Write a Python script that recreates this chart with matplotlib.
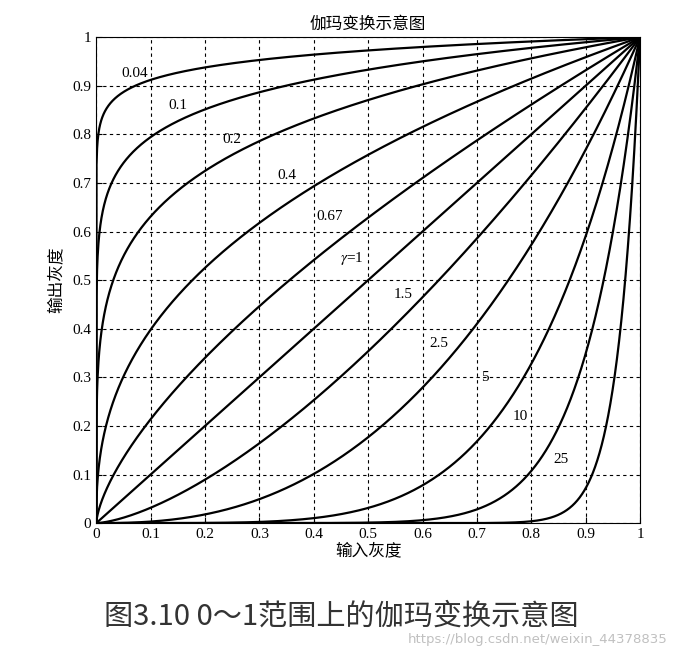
import numpy as np
import matplotlib
matplotlib.use('Agg')
import matplotlib.pyplot as plt

plt.rcParams['font.family'] = ['Liberation Serif', 'Noto Sans CJK SC']
plt.rcParams['mathtext.fontset'] = 'stix'

# gamma values and where their labels sit
gammas = [0.04, 0.1, 0.2, 0.4, 0.67, 1, 1.5, 2.5, 5, 10, 25]
labels = ['0.04', '0.1', '0.2', '0.4', '0.67', r'$\gamma$=1', '1.5', '2.5', '5', '10', '25']
label_x = [0.07, 0.15, 0.25, 0.35, 0.43, 0.47, 0.565, 0.63, 0.715, 0.78, 0.855]
label_y = [0.925, 0.86, 0.79, 0.715, 0.63, 0.545, 0.47, 0.37, 0.30, 0.22, 0.13]
ticks = [0, 0.1, 0.2, 0.3, 0.4, 0.5, 0.6, 0.7, 0.8, 0.9, 1]
tick_labels = ['0', '0.1', '0.2', '0.3', '0.4', '0.5', '0.6', '0.7', '0.8', '0.9', '1']

fig = plt.figure(figsize=(6.78, 6.63), dpi=100)
ax = fig.add_axes([0.142, 0.211, 0.802, 0.733])

x = np.linspace(0, 1, 2000)
for g in gammas:
    ax.plot(x, x ** g, color='black', lw=1.6)

for lx, ly, t in zip(label_x, label_y, labels):
    ax.text(lx, ly, t, fontsize=11, ha='center', va='center')

ax.set_xlim(0, 1)
ax.set_ylim(0, 1)
ax.set_xticks(ticks)
ax.set_yticks(ticks)
ax.set_xticklabels(tick_labels, fontsize=11)
ax.set_yticklabels(tick_labels, fontsize=11)
ax.tick_params(direction='in', length=4)
ax.grid(True, color='black', linestyle=(0, (3, 3)), lw=0.8)
ax.set_title('伽玛变换示意图', fontsize=12, pad=6)
ax.set_xlabel('输入灰度', fontsize=12, labelpad=2)
ax.set_ylabel('输出灰度', fontsize=12, labelpad=6)

fig.text(0.503, 0.07, '图3.10 0～1范围上的伽玛变换示意图', ha='center', va='center',
         fontsize=21, color='#333333', family=['Noto Sans CJK SC', 'DejaVu Sans'])
fig.text(0.985, 0.035, 'https://blog.csdn.net/weixin_44378835', ha='right', va='center',
         fontsize=9.5, color='#c0c0c0', family=['DejaVu Sans'])

fig.savefig('out.png', dpi=100)
